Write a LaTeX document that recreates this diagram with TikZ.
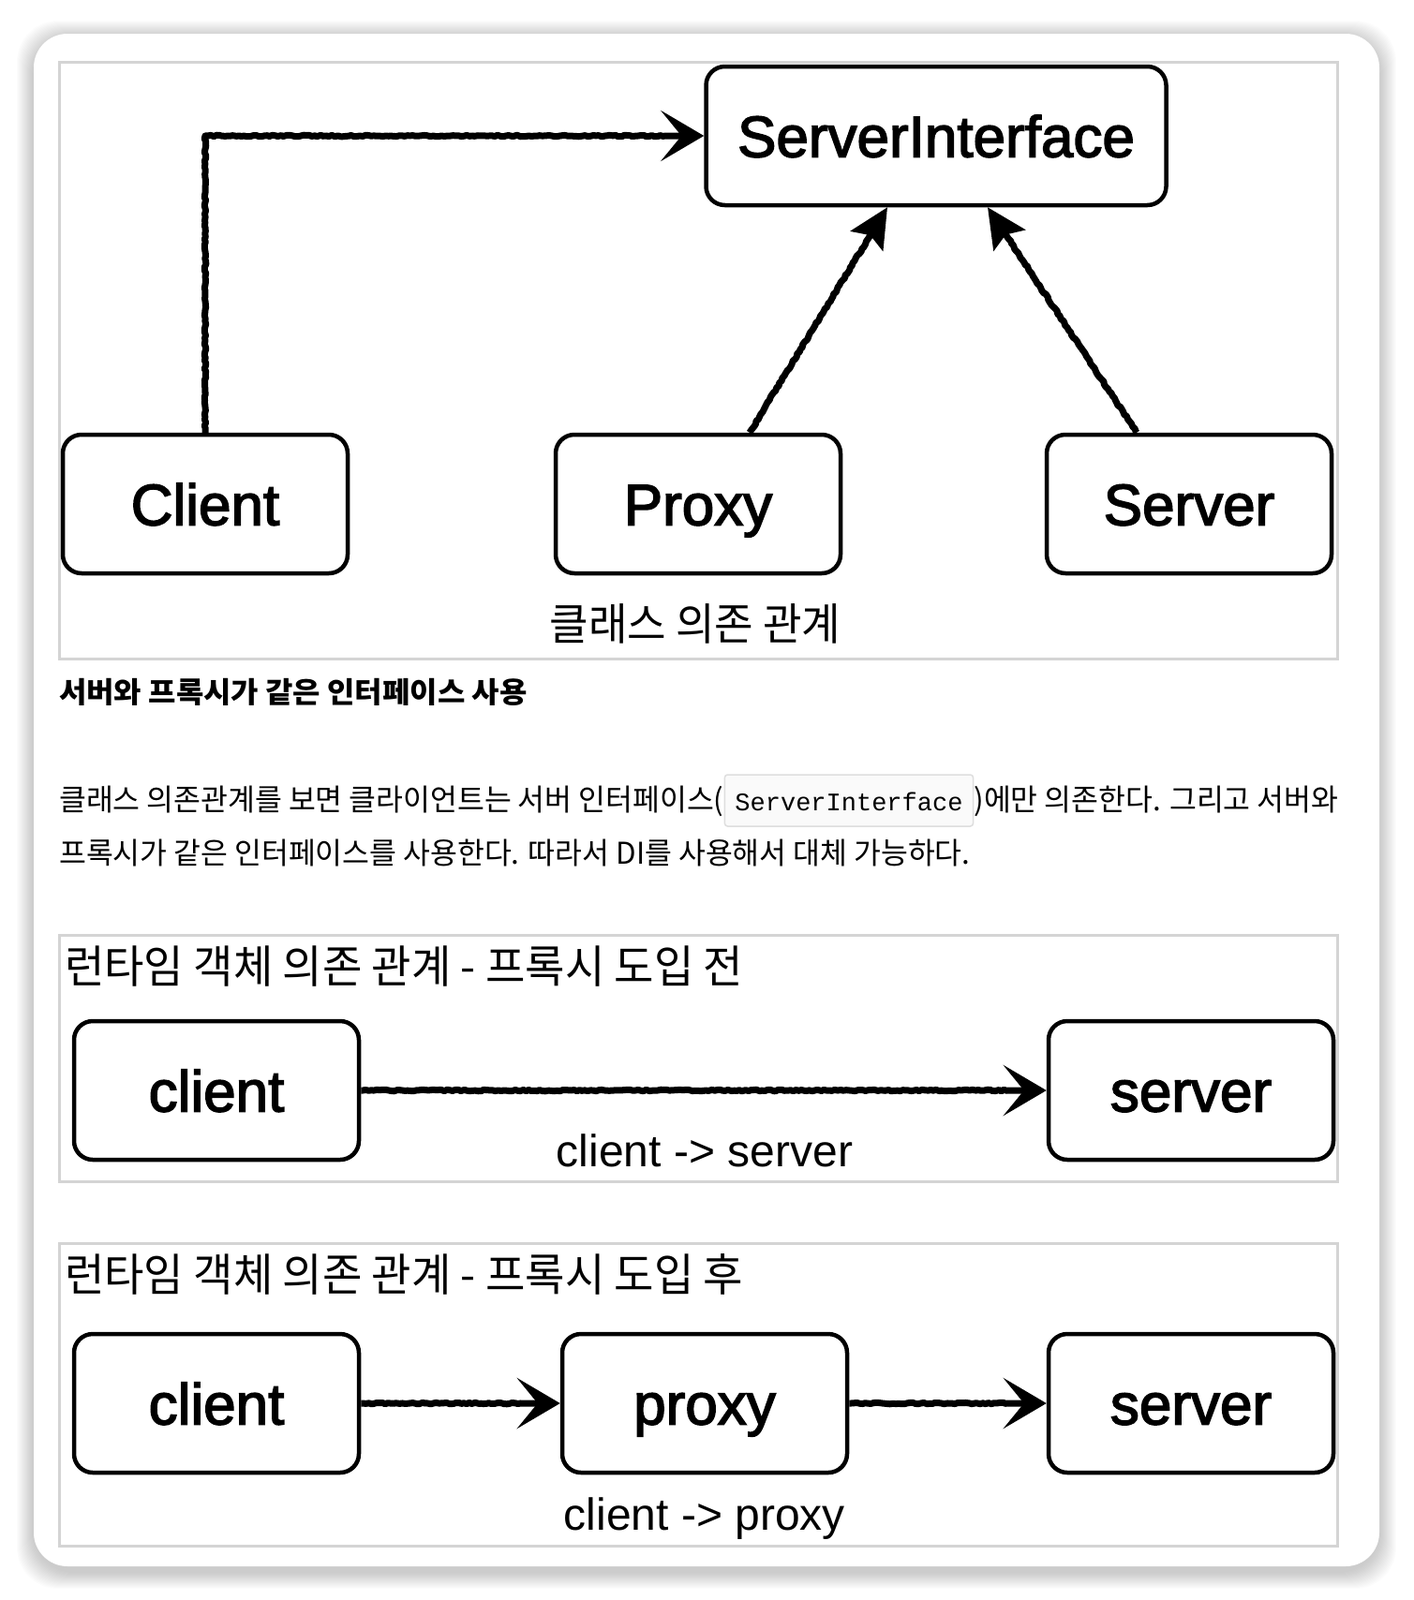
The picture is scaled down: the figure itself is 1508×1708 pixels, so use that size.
\documentclass[tikz,border=0pt]{standalone}
\usepackage{fontspec}
\setmainfont{Liberation Sans}
\newfontfamily\boxfont[FakeBold=2.5]{Liberation Sans}
\newfontfamily\krfont[FakeStretch=0.98]{Noto Sans CJK KR}
\newfontfamily\krhead[FakeStretch=1.03]{Noto Sans CJK KR}
\newfontfamily\krtitle[FakeStretch=0.96]{Noto Sans CJK KR}
\newfontfamily\codefont{Liberation Mono}
\usetikzlibrary{arrows.meta,decorations.pathmorphing}
\def\fsz#1{\fontsize{#1}{#1}\selectfont}
\tikzset{
	umlbox/.style={draw, line width=4.5pt, rounded corners=20pt, fill=white, inner sep=0pt,
		minimum width=304pt, minimum height=148pt, text height=45pt, text depth=0pt, font=\boxfont\fsz{62}},
	panel/.style={draw=black!17, line width=3pt},
	sketch/.style={line width=7pt, line join=round, decorate,
		decoration={random steps, segment length=3pt, amplitude=0.8pt, pre length=2pt, post length=40pt}},
	barb/.style={sketch, -{Stealth[length=46pt, width=54pt, inset=22pt]}},
	triarrow/.style={sketch, -{Stealth[length=42pt, width=40pt, inset=7pt]}},
	plain/.style={inner sep=0pt, anchor=base west},
	codebox/.style={draw=black!13, fill=black!2, line width=1.5pt, rounded corners=3pt, anchor=base west,
		inner xsep=11pt, inner ysep=14pt, text height=24pt, text depth=3pt, font=\codefont\fsz{27}},
}

\begin{document}
\begin{tikzpicture}[x=1pt, y=-1pt]
			%%%%% START %%%%%
			\useasboundingbox (0, 0) rectangle (1508, 1708);
			
			% card + soft shadow
			\foreach \i in {1,...,18}
				\fill[black, opacity=0.013, rounded corners=44pt] (36-\i, 40-\i) rectangle (1472+\i, 1678+\i);
			\fill[white, rounded corners=36pt] (36, 36) rectangle (1472, 1672);
			
			% class diagram
			\draw[panel] (63, 66) rectangle (1427, 703);
			
			\node[umlbox, minimum width=491pt] (ifc) at (999, 145) {ServerInterface};
			\node[umlbox] (cclient) at (219, 538) {Client};
			\node[umlbox] (cproxy) at (745, 538) {Proxy};
			\node[umlbox] (cserver) at (1269, 538) {Server};
			
			\draw[barb] (cclient.north) |- (ifc.west);
			\draw[triarrow] ([xshift=55pt]cproxy.north) -- ([xshift=-52pt]ifc.south);
			\draw[triarrow] ([xshift=-56pt]cserver.north) -- ([xshift=55pt]ifc.south);
			
			\node[inner sep=0pt, anchor=base, font=\krtitle\fsz{47}] (clslabel) at (742, 683) {클래스 의존 관계};
			
			% text between the pictures
			\node[plain, font=\krhead\bfseries\fsz{31}] (head) at (63, 750) {서버와 프록시가 같은 인터페이스 사용};
			
			\node[plain, font=\krfont\fsz{32}] (para1a) at (63, 865) {클래스 의존관계를 보면 클라이언트는 서버 인터페이스(};
			\node[codebox] (code) at (para1a.base east) {ServerInterface};
			\node[plain, font=\krfont\fsz{32}] (para1b) at (code.base east) {)에만 의존한다. 그리고 서버와};
			\node[plain, font=\krfont\fsz{32}] (para2) at (63, 922) {프록시가 같은 인터페이스를 사용한다. 따라서 DI를 사용해서 대체 가능하다.};
			
			% runtime - before proxy
			\draw[panel] (63, 998) rectangle (1427, 1261);
			\node[plain, font=\krtitle\fsz{48}] (title1) at (69, 1049) {런타임 객체 의존 관계 - 프록시 도입 전};
			
			\node[umlbox] (r1client) at (231, 1164) {client};
			\node[umlbox] (r1server) at (1271, 1164) {server};
			\draw[barb] (r1client) -- (r1server);
			\node[inner sep=0pt, anchor=base, font=\fsz{48}] (r1label) at (752, 1245) {client -> server};
			
			% runtime - after proxy
			\draw[panel] (63, 1327) rectangle (1427, 1650);
			\node[plain, font=\krtitle\fsz{48}] (title2) at (69, 1378) {런타임 객체 의존 관계 - 프록시 도입 후};
			
			\node[umlbox] (r2client) at (231, 1498) {client};
			\node[umlbox] (r2proxy) at (752, 1498) {proxy};
			\node[umlbox] (r2server) at (1271, 1498) {server};
			\draw[barb] (r2client) -- (r2proxy);
			\draw[barb] (r2proxy) -- (r2server);
			\node[inner sep=0pt, anchor=base, font=\fsz{48}] (r2label) at (752, 1633) {client -> proxy};
			
			%%%%% END %%%%%
		\end{tikzpicture}
\end{document}
